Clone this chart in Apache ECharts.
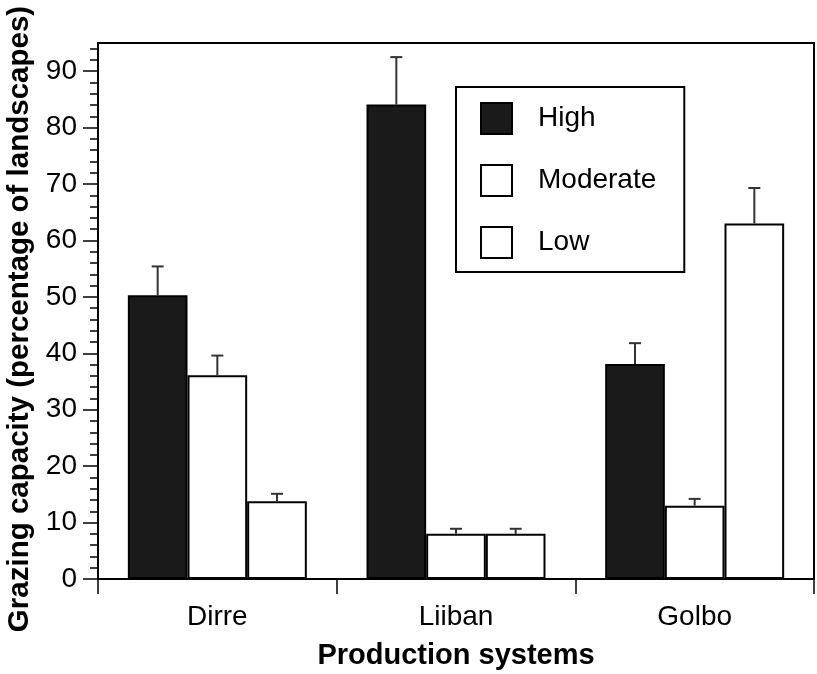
<!DOCTYPE html>
<html>
<head>
<meta charset="utf-8">
<script src="https://cdn.jsdelivr.net/npm/echarts@6/dist/echarts.min.js"></script>
<style>
html,body{margin:0;padding:0;background:#fff;}
#chart{width:817px;height:674px;}
</style>
</head>
<body>
<div id="chart"></div>
<script>
const categories = ['Dirre', 'Liiban', 'Golbo'];
const seriesNames = ['High', 'Moderate', 'Low'];
const highValues = [50.3, 84.1, 38.1];
const highErrors = [5.1, 8.4, 3.7];
const moderateValues = [36.1, 8.0, 13.0];
const moderateErrors = [3.5, 0.9, 1.2];
const lowValues = [13.8, 8.0, 63.0];
const lowErrors = [1.3, 0.9, 6.3];
const yMajorTicks = [0, 10, 20, 30, 40, 50, 60, 70, 80, 90];
const yMinorTicks = [2,4,6,8,12,14,16,18,22,24,26,28,32,34,36,38,42,44,46,48,52,54,56,58,62,64,66,68,72,74,76,78,82,84,86,88,92,94];

const FONT = 'Liberation Sans, Arial, sans-serif';
const chart = echarts.init(document.getElementById('chart'), null, {renderer: 'canvas'});

const fills = ['#1a1a1a', '#ffffff', '#ffffff'];
const valueSets = [highValues, moderateValues, lowValues];
const errorSets = [highErrors, moderateErrors, lowErrors];

const barSeries = seriesNames.map((name, k) => ({
  name: name,
  type: 'bar',
  yAxisIndex: 0,
  data: valueSets[k],
  barGap: '0%',
  barCategoryGap: '25%',
  itemStyle: {color: fills[k], borderColor: '#000', borderWidth: 2},
  emphasis: {disabled: true},
  z: 2
}));

const errSeries = seriesNames.map((name, k) => ({
  name: name + ' error',
  type: 'custom',
  yAxisIndex: 0,
  z: 3,
  data: categories.map((c, i) => [i, valueSets[k][i], errorSets[k][i]]),
  encode: {x: 0, y: 1},
  renderItem: function (params, api) {
    const ci = api.value(0), v = api.value(1), e = api.value(2);
    const base = api.coord([ci, v]);
    const top = api.coord([ci, v + e]);
    const band = api.size([1, 0])[0];
    const bw = band * 0.75 / 3;
    const x = base[0] + (k - 1) * bw;
    const st = {stroke: '#333', lineWidth: 2};
    return {
      type: 'group',
      children: [
        {type: 'line', shape: {x1: x, y1: base[1], x2: x, y2: top[1]}, style: st},
        {type: 'line', shape: {x1: x - 6, y1: top[1], x2: x + 6, y2: top[1]}, style: st}
      ]
    };
  }
}));

chart.setOption({
  backgroundColor: '#fff',
  animation: false,
  textStyle: {fontFamily: FONT},
  grid: {left: 98, right: 3, top: 43, bottom: 95, show: true, borderColor: '#000', borderWidth: 2, backgroundColor: 'transparent', containLabel: false, outerBoundsMode: 'none'},
  legend: {
    data: seriesNames,
    icon: 'rect',
    orient: 'vertical',
    left: 456,
    top: 87,
    padding: [15, 28, 13, 24],
    itemWidth: 31,
    itemHeight: 31,
    itemGap: 29,
    borderColor: '#000',
    borderWidth: 2,
    backgroundColor: '#fff',
    selectedMode: false,
    textStyle: {fontSize: 28, color: '#000', fontFamily: FONT, padding: [0, 0, 0, 21]}
  },
  xAxis: {
    type: 'category',
    data: categories,
    name: 'Production systems',
    nameLocation: 'middle',
    nameGap: 62,
    nameTextStyle: {fontSize: 29, fontWeight: 'bold', color: '#000', fontFamily: FONT},
    axisLine: {lineStyle: {color: '#000', width: 2}},
    axisTick: {show: true, length: 15, lineStyle: {color: '#000', width: 1.5}},
    axisLabel: {fontSize: 28, color: '#000', margin: 24, fontFamily: FONT},
    splitLine: {show: false}
  },
  yAxis: [
    {
      type: 'value',
      min: 0,
      max: 95,
      interval: 10,
      name: 'Grazing capacity (percentage of landscapes)',
      nameLocation: 'middle',
      nameGap: 62,
      nameRotate: 90,
      nameTextStyle: {fontSize: 29.5, fontWeight: 'bold', color: '#000', fontFamily: FONT, padding: [0, 16, 0, 0]},
      axisLine: {show: true, lineStyle: {color: '#000', width: 2}},
      axisTick: {show: true, length: 15, customValues: yMajorTicks, lineStyle: {color: '#000', width: 1.5}},
      axisLabel: {fontSize: 28, color: '#000', margin: 21, customValues: yMajorTicks, fontFamily: FONT},
      splitLine: {show: false}
    },
    {
      type: 'value',
      min: 0,
      max: 95,
      position: 'left',
      axisLine: {show: false},
      axisTick: {show: true, length: 8, customValues: yMinorTicks, lineStyle: {color: '#000', width: 1.5}},
      axisLabel: {show: false},
      splitLine: {show: false}
    }
  ],
  series: barSeries.concat(errSeries)
});
</script>
</body>
</html>
